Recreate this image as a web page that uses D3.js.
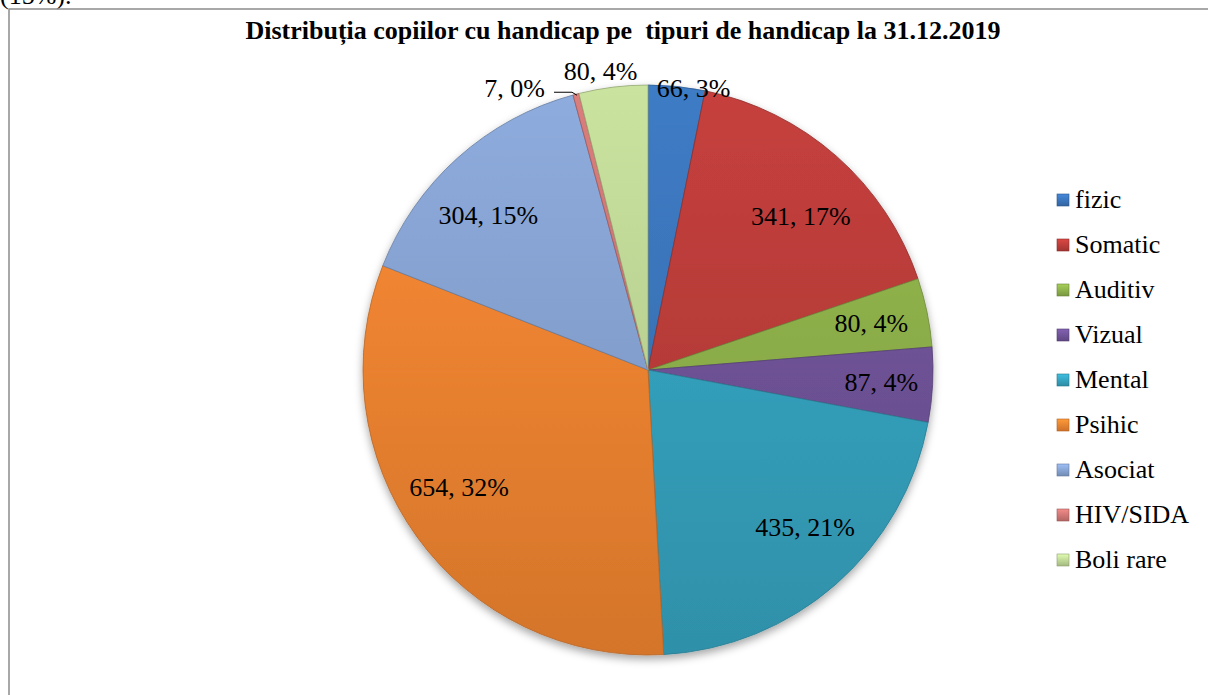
<!DOCTYPE html>
<html>
<head>
<meta charset="UTF-8">
<style>
    svg text { font-family: "Liberation Serif", Tinos, "Times New Roman", serif !important; }
</style>
</head>
<body style="margin:0">
<svg id="pie" width="1208" height="695" style="display:block"></svg>
<script src="https://cdn.jsdelivr.net/npm/d3@7"></script>
<script>
    var categories = ["fizic", "Somatic", "Auditiv", "Vizual", "Mental", "Psihic", "Asociat", "HIV/SIDA", "Boli rare"];
    var values = [66, 341, 80, 87, 435, 654, 304, 7, 80];
    var percents = ["3%", "17%", "4%", "4%", "21%", "32%", "15%", "0%", "4%"];
    var colors = ["#3a73b8", "#b83c39", "#8cae4a", "#6e5296", "#34a0bc", "#ec8230", "#84a0cf", "#cc7573", "#bcd494"];

    (function () {
        var cx = 648, cy = 370, r = 285;
        var serif = "'Liberation Serif', Tinos, 'Times New Roman', serif";

        var svg = d3.select("#pie");
        var defs = svg.append("defs");

        // gradient per slice, light on top, darker on bottom
        colors.forEach(function (c, i) {
            var g = defs.append("linearGradient")
                .attr("id", "grad" + i)
                .attr("gradientUnits", "userSpaceOnUse")
                .attr("x1", 0).attr("y1", -r)
                .attr("x2", 0).attr("y2", r);
            g.append("stop").attr("offset", "0%").attr("stop-color", d3.color(c).brighter(0.2));
            g.append("stop").attr("offset", "100%").attr("stop-color", d3.color(c).darker(0.3));

            var lg = defs.append("linearGradient").attr("id", "lg" + i)
                .attr("x1", 0).attr("y1", 0).attr("x2", 0).attr("y2", 1);
            lg.append("stop").attr("offset", "0%").attr("stop-color", d3.color(c).brighter(0.5));
            lg.append("stop").attr("offset", "100%").attr("stop-color", d3.color(c).darker(0.4));
        });
        var f = defs.append("filter").attr("id", "shadow")
            .attr("x", "-10%").attr("y", "-10%").attr("width", "120%").attr("height", "125%");
        f.append("feDropShadow").attr("dx", 0).attr("dy", 4).attr("stdDeviation", 4)
            .attr("flood-color", "#000").attr("flood-opacity", 0.35);

        // cut-off text from the page above
        svg.append("text").attr("x", 0).attr("y", 4).attr("font-size", 26)
            .style("font-family", serif, "important").text("(15%).");

        // frame
        svg.append("rect").attr("x", 9).attr("y", 9).attr("width", 1210).attr("height", 700)
            .attr("fill", "none").attr("stroke", "#8c8c8c").attr("stroke-width", 1.5);

        svg.append("text")
            .attr("x", 623).attr("y", 39)
            .attr("text-anchor", "middle")
            .attr("font-size", 26).attr("font-weight", "bold")
            .style("font-family", serif, "important")
            .text("Distribuția copiilor cu handicap pe\u00a0 tipuri de handicap la 31.12.2019");

        var data = categories.map(function (c, i) {
            return { name: c, value: values[i], pct: percents[i], i: i };
        });

        var pie = d3.pie().sort(null).value(function (d) { return d.value; });
        var arcs = pie(data);
        var arc = d3.arc().innerRadius(0).outerRadius(r);

        var g = svg.append("g").attr("transform", "translate(" + cx + "," + cy + ")");
        g.append("g").attr("filter", "url(#shadow)")
            .selectAll("path")
            .data(arcs)
            .enter()
            .append("path")
            .attr("d", arc)
            .attr("fill", function (d) { return "url(#grad" + d.data.i + ")"; })
            .attr("stroke", function (d) { return d3.color(colors[d.data.i]).darker(0.7); })
            .attr("stroke-width", 0.8);

        // label radius factors (Excel best-fit placement)
        var labelRadius = [1.0, 0.76, 0.8, 0.82, 0.78, 0.78, 0.78, 1.06, 1.06];
        var labelShift = [0.06, 0.06, 0, 0, -0.065, 0.07, -0.07, 0, -0.035];

        var labels = svg.append("g");
        arcs.forEach(function (d, k) {
            var a = (d.startAngle + d.endAngle) / 2 + labelShift[k];
            var rr = r * labelRadius[k];
            var x = cx + rr * Math.sin(a), y = cy - rr * Math.cos(a);
            var txt = d.data.value + ", " + d.data.pct;
            var t;
            if (d.data.name === "HIV/SIDA") {
                // outside label with leader line
                var ex = cx + r * Math.sin(a), ey = cy - r * Math.cos(a);
                labels.append("path")
                    .attr("d", "M" + (ex + 1) + "," + (ey + 1) + "L" + (ex - 4) + "," + (ey - 2) + "L" + (ex - 22) + "," + (ey - 2))
                    .attr("fill", "none").attr("stroke", "#000").attr("stroke-width", 1);
                t = labels.append("text").attr("x", ex - 31).attr("y", ey + 3)
                    .attr("text-anchor", "end");
            } else {
                t = labels.append("text")
                    .attr("x", x).attr("y", y + 8.5)
                    .attr("text-anchor", "middle");
            }
            t.attr("font-size", 26).style("font-family", serif, "important").text(txt);
        });

        // legend
        var legend = svg.append("g").attr("transform", "translate(1057,200)");
        var item = legend.selectAll("g").data(categories).enter().append("g")
            .attr("transform", function (d, i) { return "translate(0," + (i * 45) + ")"; });
        item.append("rect").attr("x", 0).attr("y", -6).attr("width", 12).attr("height", 12)
            .attr("fill", function (d, i) { return "url(#lg" + i + ")"; })
            .attr("stroke", function (d, i) { return d3.color(colors[i]).darker(0.8); })
            .attr("stroke-width", 0.6);
        item.append("text").attr("x", 18).attr("y", 8).attr("font-size", 26)
            .style("font-family", serif, "important")
            .text(function (d) { return d; });
    })();
</script>
</body>
</html>
